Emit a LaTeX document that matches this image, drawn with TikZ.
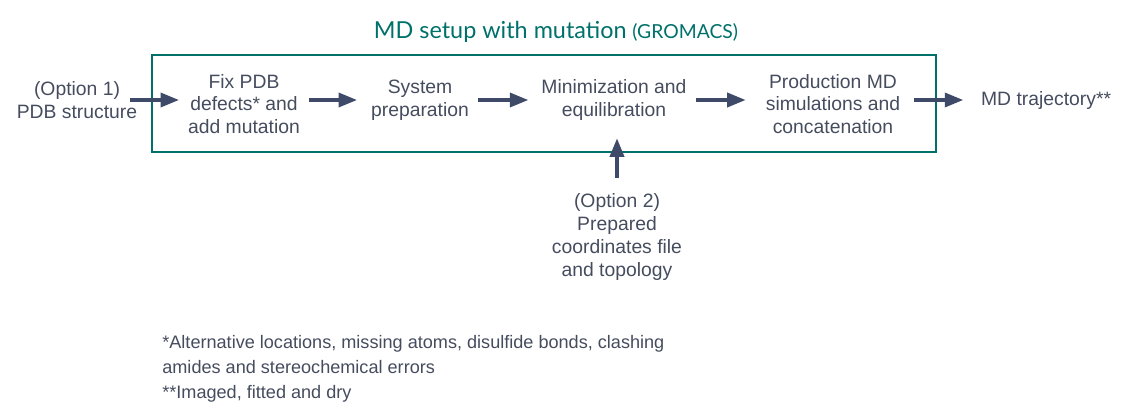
\documentclass[tikz,border=0pt]{standalone}
\usepackage{fontspec}
\setmainfont{Liberation Sans}
\newfontfamily\titlefont{Lato}
\usetikzlibrary{arrows.meta}
\definecolor{tealbox}{HTML}{00706B}
\definecolor{txtgray}{HTML}{454C5E}
\definecolor{arrowblue}{HTML}{3F4A68}

\begin{document}
\begin{tikzpicture}[
  stage/.style={align=center, text=txtgray, font=\fontsize{11}{13}\selectfont, inner sep=5pt},
  flow/.style={draw=arrowblue, line width=1.9pt, -{Triangle[length=10.5pt,width=8pt]}}]
\useasboundingbox (0,0) rectangle (22.82,8.36);
\draw[tealbox, line width=1.1pt] (3.04,5.32) rectangle (18.72,7.26);
\node[text=tealbox] (title) at (11.12,7.72) {\titlefont\fontsize{13.3}{15}\selectfont MD setup with mutation {\fontsize{11}{12}\selectfont (GROMACS)}};

\node[stage] (opt1) at (1.54,6.36) {(Option 1)\\PDB structure};
\node[stage] (fix) at (4.88,6.28) {Fix PDB\\defects* and\\add mutation};
\node[stage] (sys) at (8.40,6.36) {System\\preparation};
\node[stage] (min) at (12.28,6.36) {Minimization and\\equilibration};
\node[stage] (prod) at (16.66,6.28) {Production MD\\simulations and\\concatenation};
\node[stage, anchor=west] (traj) at (19.44,6.36) {MD trajectory**};
\node[stage] (opt2) at (12.34,3.62) {(Option 2)\\Prepared\\coordinates file\\and topology};
\node[text=txtgray, align=left, anchor=north west, inner sep=0pt, font=\fontsize{10.3}{14.2}\selectfont] (notes) at (3.24,1.66)
  {*Alternative locations, missing atoms, disulfide bonds, clashing\\amides and stereochemical errors\\**Imaged, fitted and dry};

\draw[flow, shorten <=-9pt] (opt1.east) -- (opt1.east -| fix.west);
\draw[flow, shorten >=2.8pt] (fix.east |- sys.west) -- (sys.west);
\draw[flow, shorten >=2.3pt] (sys.east) -- (min.west);
\draw[flow, shorten >=6.3pt] (min.east) -- (min.east -| prod.west);
\draw[flow, shorten <=2.8pt, shorten >=5pt] (prod.east |- traj.west) -- (traj.west);
\draw[flow, shorten <=4pt, shorten >=5pt] (opt2.north) -- (opt2.north |- min.south);
\end{tikzpicture}
\end{document}
